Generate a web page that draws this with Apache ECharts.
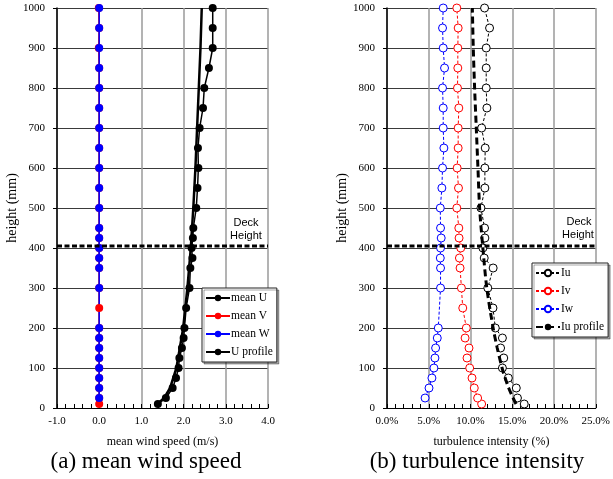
<!DOCTYPE html>
<html><head><meta charset="utf-8">
<script src="https://cdn.jsdelivr.net/npm/echarts@6/dist/echarts.min.js"></script>
<style>html,body{margin:0;padding:0;background:#fff}#c{width:613px;height:479px}</style>
</head><body><div id="c"></div>
<script>
// heights (mm)
const heightsU = [10,25,50,75,100,125,150,175,200,250,300,350,375,400,425,450,500,550,600,650,700,750,800,850,900,950,1000];
const heightsW = [25,50,75,100,125,150,175,200,300,350,375,400,425,450,500,550,600,650,700,750,800,850,900,950,1000];
// mean wind speed (m/s)
const meanU = [1.39,1.58,1.74,1.82,1.88,1.90,1.96,2.00,2.02,2.06,2.14,2.16,2.21,2.19,2.22,2.23,2.30,2.33,2.35,2.34,2.38,2.46,2.49,2.60,2.69,2.69,2.69];
const meanV = [0.00,0.00,0.00,0.00,0.00,0.00,0.00,0.00,0.00,0.00,0.00,0.00,0.00,0.00,0.00,0.00,0.00,0.00,0.00,0.00,0.00,0.00,0.00,0.00,-0.01,0.00,-0.01];
const meanW = [0.00,0.00,0.00,0.00,0.00,0.00,0.00,0.00,0.00,0.00,0.00,0.00,0.00,0.00,0.00,0.00,0.00,0.00,0.00,0.00,0.00,0.00,0.00,0.00,0.00];
const profileHeights = [10,25,50,100,200,300,400,500,600,700,800,900,1000];
const uProfile = [1.38,1.54,1.68,1.83,1.99,2.09,2.17,2.23,2.28,2.32,2.36,2.40,2.43];
// turbulence intensity (%)
const Iu = [16.43,15.62,15.48,14.53,13.82,13.98,13.60,13.82,12.97,12.69,12.07,12.71,11.64,11.48,11.72,11.68,11.25,11.72,11.72,11.76,11.33,11.96,11.88,11.88,11.88,12.28,11.68];
const Iv = [11.33,10.85,10.45,10.18,9.90,9.58,9.82,9.35,9.50,9.07,8.91,8.75,8.67,8.83,8.63,8.60,8.36,8.56,8.40,8.52,8.52,8.60,8.44,8.48,8.48,8.52,8.36];
const Iw = [4.56,5.03,5.38,5.62,5.74,5.82,6.02,6.14,6.41,6.41,6.38,6.41,6.49,6.41,6.38,6.57,6.65,6.81,6.73,6.73,6.65,6.89,6.73,6.65,6.73];
const IuProfileHeights = [10,25,50,75,100,150,200,300,400,500,600,700,800,900,1000];
const IuProfile = [15.45,15.10,14.57,14.15,13.78,13.20,12.71,11.95,11.48,11.09,10.89,10.69,10.49,10.33,10.22];
const deckHeight = 405;
const xTicksA = [-1,0,1,2,3,4];
const xTicksB = [0,5,10,15,20,25];
const legendA = ['mean U','mean V','mean W','U profile'];
const legendB = ['Iu','Iv','Iw','Iu profile'];

const serif = 'Liberation Serif';
const pairs = (xs, hs) => hs.map((h, i) => [xs[i], h]);

function xAxis(grid, ticks, fmt, name) {
  return {
    gridIndex: grid, type: 'value', min: ticks[0], max: ticks[ticks.length - 1],
    interval: ticks[1] - ticks[0],
    name: name, nameLocation: 'middle', nameGap: 28,
    nameTextStyle: { fontFamily: serif, fontSize: 12, color: '#000' },
    axisLine: { show: true, onZero: false, lineStyle: { color: '#000', width: 1 } },
    axisTick: { show: true, inside: true, length: 4, lineStyle: { color: '#000' } },
    minorTick: { show: true, splitNumber: 5, length: 4, lineStyle: { color: '#000' } },
    axisLabel: { fontFamily: serif, fontSize: 11, color: '#000', margin: 8, formatter: fmt },
    splitLine: { show: true, lineStyle: { color: '#9a9a9a', width: 1.5 } }
  };
}
function yAxis(grid) {
  return {
    gridIndex: grid, type: 'value', min: 0, max: 1000, interval: 100,
    name: 'height (mm)', nameLocation: 'middle', nameGap: 35, nameRotate: 90,
    nameTextStyle: { fontFamily: serif, fontSize: 14, color: '#000' },
    axisLine: { show: true, onZero: false, lineStyle: { color: '#000', width: 1.5 } },
    axisTick: { show: true, inside: false, length: 4, lineStyle: { color: '#000' } },
    axisLabel: { fontFamily: serif, fontSize: 11, color: '#000', margin: 12, formatter: v => String(v) },
    splitLine: { show: true, lineStyle: { color: '#3a3a3a', width: 1 } }
  };
}
function legend(left, top, data) {
  return {
    left: left, top: top, orient: 'vertical', data: data,
    itemWidth: 24, itemHeight: 8, itemGap: 6, padding: [4, 4, 4, 3],
    borderColor: '#222', borderWidth: 1, backgroundColor: '#fff',
    shadowColor: 'rgba(0,0,0,0.35)', shadowOffsetX: 2, shadowOffsetY: 2,
    textStyle: { fontFamily: serif, fontSize: 11.5, color: '#000', padding: [0, 0, 0, -4] },
    selectedMode: false
  };
}
function filled(name, xs, hs, color, idx, lw) {
  return {
    name: name, type: 'line', xAxisIndex: idx, yAxisIndex: idx, data: pairs(xs, hs),
    symbol: 'circle', symbolSize: 8, showSymbol: true,
    itemStyle: { color: color, borderWidth: 0 },
    lineStyle: { color: color, width: lw }, z: 3
  };
}
function open(name, xs, hs, color) {
  return {
    name: name, type: 'line', xAxisIndex: 1, yAxisIndex: 1, data: pairs(xs, hs),
    symbol: 'circle', symbolSize: 8, showSymbol: true,
    itemStyle: { color: '#fff', borderColor: color, borderWidth: 1 },
    lineStyle: { color: color, width: 1, type: [3, 2] }, z: 3
  };
}
function deck(idx, ticks) {
  return {
    name: 'deck', type: 'line', xAxisIndex: idx, yAxisIndex: idx, silent: true,
    data: [[ticks[0], deckHeight], [ticks[ticks.length - 1], deckHeight]],
    symbol: 'none', lineStyle: { color: '#000', width: 3, type: [5, 2.5] }, z: 5
  };
}

const chart = echarts.init(document.getElementById('c'));
const label = (x, y, text, font) => ({ type: 'text', x: x, y: y,
  style: { text: text, font: font, fill: '#000', align: 'center', verticalAlign: 'middle' } });
chart.setOption({
  animation: false,
  backgroundColor: '#fff',
  grid: [
    { left: 57, top: 8, width: 211, height: 400 },
    { left: 387, top: 8, width: 211, height: 400 }
  ],
  xAxis: [
    xAxis(0, xTicksA, v => v.toFixed(1), 'mean wind speed (m/s)'),
    xAxis(1, xTicksB, v => v.toFixed(1) + '%', 'turbulence intensity (%)')
  ],
  yAxis: [yAxis(0), yAxis(1)],
  legend: [legend(202, 288, legendA), legend(532, 263, legendB)],
  series: [
    deck(0, xTicksA),
    deck(1, xTicksB),
    filled('mean U', meanU, heightsU, '#000', 0, 1.5),
    filled('mean V', meanV, heightsU, '#ff0000', 0, 1.5),
    filled('mean W', meanW, heightsW, '#0000ff', 0, 1.5),
    { name: 'U profile', type: 'line', xAxisIndex: 0, yAxisIndex: 0, data: pairs(uProfile, profileHeights),
      symbol: 'none', lineStyle: { color: '#000', width: 2.5 }, itemStyle: { color: '#000' }, z: 4 },
    open('Iu', Iu, heightsU, '#000'),
    open('Iv', Iv, heightsU, '#ff0000'),
    open('Iw', Iw, heightsW, '#0000ff'),
    { name: 'Iu profile', type: 'line', xAxisIndex: 1, yAxisIndex: 1, data: pairs(IuProfile, IuProfileHeights),
      symbol: 'none', smooth: 0.3, lineStyle: { color: '#000', width: 3, type: [7, 4] }, itemStyle: { color: '#000' }, z: 4 }
  ],
  graphic: [
    label(246, 223, 'Deck', '11px "Liberation Sans"'),
    label(246, 236, 'Height', '11px "Liberation Sans"'),
    label(579, 222, 'Deck', '11px "Liberation Sans"'),
    label(578, 235, 'Height', '11px "Liberation Sans"'),
    label(146, 462, '(a) mean wind speed', '23px "Liberation Serif"'),
    label(477, 462, '(b) turbulence intensity', '23px "Liberation Serif"')
  ]
});
</script>
</body></html>
